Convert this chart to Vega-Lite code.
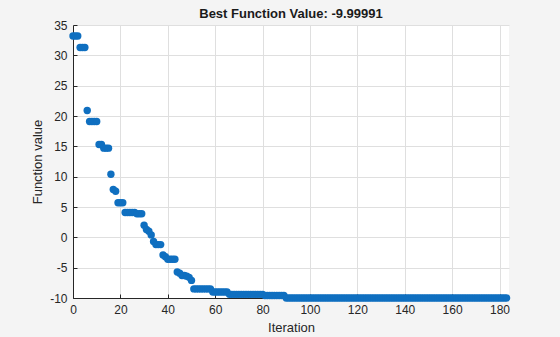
{
  "$schema": "https://vega.github.io/schema/vega-lite/v6.json",
  "width": 436,
  "height": 273,
  "autosize": "none",
  "padding": {"left": 73, "top": 25, "right": 51, "bottom": 39},
  "background": "#f4f4f4",
  "title": {"text": "Best Function Value: -9.99991", "font": "Liberation Sans", "fontSize": 13, "fontWeight": "bold", "color": "#1a1a1a", "offset": -2},
  "config": {
    "view": {"fill": "white", "stroke": null},
    "axis": {"labelFont": "Liberation Sans", "titleFont": "Liberation Sans", "labelFontSize": 12, "titleFontSize": 13, "titleFontWeight": "normal", "labelColor": "#262626", "titleColor": "#262626", "domainColor": "#262626", "tickColor": "#262626", "gridColor": "#dfdfdf", "tickSize": -4, "labelPadding": 10, "labelFlush": false, "labelExpr": "toString(datum.value)"}
  },
  "data": {"values": [
    {"iter":0,"f":33.2},{"iter":1,"f":33.2},{"iter":2,"f":33.2},
    {"iter":3,"f":31.3},{"iter":4,"f":31.3},{"iter":5,"f":31.3},
    {"iter":6,"f":20.9},
    {"iter":7,"f":19.1},{"iter":8,"f":19.1},{"iter":9,"f":19.1},{"iter":10,"f":19.1},
    {"iter":11,"f":15.3},{"iter":12,"f":15.3},
    {"iter":13,"f":14.7},{"iter":14,"f":14.7},{"iter":15,"f":14.7},
    {"iter":16,"f":10.4},
    {"iter":17,"f":7.9},{"iter":18,"f":7.6},
    {"iter":19,"f":5.7},{"iter":20,"f":5.7},{"iter":21,"f":5.7},
    {"iter":22,"f":4.1},{"iter":23,"f":4.1},{"iter":24,"f":4.1},{"iter":25,"f":4.1},{"iter":26,"f":4.1},
    {"iter":27,"f":3.9},{"iter":28,"f":3.9},{"iter":29,"f":3.9},
    {"iter":30,"f":2.0},{"iter":31,"f":1.3},{"iter":32,"f":1.0},{"iter":33,"f":0.4},
    {"iter":34,"f":-0.7},
    {"iter":35,"f":-1.2},{"iter":36,"f":-1.2},{"iter":37,"f":-1.2},
    {"iter":38,"f":-2.9},{"iter":39,"f":-3.2},
    {"iter":40,"f":-3.6},{"iter":41,"f":-3.6},{"iter":42,"f":-3.6},{"iter":43,"f":-3.6},
    {"iter":44,"f":-5.7},{"iter":45,"f":-5.9},
    {"iter":46,"f":-6.3},{"iter":47,"f":-6.3},{"iter":48,"f":-6.4},{"iter":49,"f":-6.6},{"iter":50,"f":-7.1},
    {"iter":51,"f":-8.5},{"iter":52,"f":-8.5},{"iter":53,"f":-8.5},{"iter":54,"f":-8.5},{"iter":55,"f":-8.5},{"iter":56,"f":-8.5},{"iter":57,"f":-8.5},{"iter":58,"f":-8.5},
    {"iter":59,"f":-9.0},{"iter":60,"f":-9.0},{"iter":61,"f":-9.0},{"iter":62,"f":-9.0},{"iter":63,"f":-9.0},{"iter":64,"f":-9.0},{"iter":65,"f":-9.0},
    {"iter":66,"f":-9.4},{"iter":67,"f":-9.4},{"iter":68,"f":-9.4},{"iter":69,"f":-9.4},{"iter":70,"f":-9.4},{"iter":71,"f":-9.4},{"iter":72,"f":-9.4},{"iter":73,"f":-9.4},{"iter":74,"f":-9.4},{"iter":75,"f":-9.4},{"iter":76,"f":-9.4},{"iter":77,"f":-9.4},{"iter":78,"f":-9.4},{"iter":79,"f":-9.4},{"iter":80,"f":-9.4},
    {"iter":81,"f":-9.6},{"iter":82,"f":-9.6},{"iter":83,"f":-9.6},{"iter":84,"f":-9.6},{"iter":85,"f":-9.6},{"iter":86,"f":-9.6},{"iter":87,"f":-9.6},{"iter":88,"f":-9.6},{"iter":89,"f":-9.6},
    {"iter":90,"f":-9.9999},{"iter":91,"f":-9.9999},{"iter":92,"f":-9.9999},{"iter":93,"f":-9.9999},{"iter":94,"f":-9.9999},{"iter":95,"f":-9.9999},{"iter":96,"f":-9.9999},{"iter":97,"f":-9.9999},{"iter":98,"f":-9.9999},{"iter":99,"f":-9.9999},
    {"iter":100,"f":-9.9999},{"iter":101,"f":-9.9999},{"iter":102,"f":-9.9999},{"iter":103,"f":-9.9999},{"iter":104,"f":-9.9999},{"iter":105,"f":-9.9999},{"iter":106,"f":-9.9999},{"iter":107,"f":-9.9999},{"iter":108,"f":-9.9999},{"iter":109,"f":-9.9999},
    {"iter":110,"f":-9.9999},{"iter":111,"f":-9.9999},{"iter":112,"f":-9.9999},{"iter":113,"f":-9.9999},{"iter":114,"f":-9.9999},{"iter":115,"f":-9.9999},{"iter":116,"f":-9.9999},{"iter":117,"f":-9.9999},{"iter":118,"f":-9.9999},{"iter":119,"f":-9.9999},
    {"iter":120,"f":-9.9999},{"iter":121,"f":-9.9999},{"iter":122,"f":-9.9999},{"iter":123,"f":-9.9999},{"iter":124,"f":-9.9999},{"iter":125,"f":-9.9999},{"iter":126,"f":-9.9999},{"iter":127,"f":-9.9999},{"iter":128,"f":-9.9999},{"iter":129,"f":-9.9999},
    {"iter":130,"f":-9.9999},{"iter":131,"f":-9.9999},{"iter":132,"f":-9.9999},{"iter":133,"f":-9.9999},{"iter":134,"f":-9.9999},{"iter":135,"f":-9.9999},{"iter":136,"f":-9.9999},{"iter":137,"f":-9.9999},{"iter":138,"f":-9.9999},{"iter":139,"f":-9.9999},
    {"iter":140,"f":-9.9999},{"iter":141,"f":-9.9999},{"iter":142,"f":-9.9999},{"iter":143,"f":-9.9999},{"iter":144,"f":-9.9999},{"iter":145,"f":-9.9999},{"iter":146,"f":-9.9999},{"iter":147,"f":-9.9999},{"iter":148,"f":-9.9999},{"iter":149,"f":-9.9999},
    {"iter":150,"f":-9.9999},{"iter":151,"f":-9.9999},{"iter":152,"f":-9.9999},{"iter":153,"f":-9.9999},{"iter":154,"f":-9.9999},{"iter":155,"f":-9.9999},{"iter":156,"f":-9.9999},{"iter":157,"f":-9.9999},{"iter":158,"f":-9.9999},{"iter":159,"f":-9.9999},
    {"iter":160,"f":-9.9999},{"iter":161,"f":-9.9999},{"iter":162,"f":-9.9999},{"iter":163,"f":-9.9999},{"iter":164,"f":-9.9999},{"iter":165,"f":-9.9999},{"iter":166,"f":-9.9999},{"iter":167,"f":-9.9999},{"iter":168,"f":-9.9999},{"iter":169,"f":-9.9999},
    {"iter":170,"f":-9.9999},{"iter":171,"f":-9.9999},{"iter":172,"f":-9.9999},{"iter":173,"f":-9.9999},{"iter":174,"f":-9.9999},{"iter":175,"f":-9.9999},{"iter":176,"f":-9.9999},{"iter":177,"f":-9.9999},{"iter":178,"f":-9.9999},{"iter":179,"f":-9.9999},
    {"iter":180,"f":-9.9999},{"iter":181,"f":-9.9999},{"iter":182,"f":-9.9999},{"iter":183,"f":-9.9999}
  ]},
  "mark": {"type": "point", "filled": true, "opacity": 1, "size": 55, "color": "#0f6fc0", "clip": false},
  "encoding": {
    "x": {"field": "iter", "type": "quantitative", "title": "Iteration", "scale": {"domain": [0, 184], "nice": false, "zero": false},
      "axis": {"values": [0,20,40,60,80,100,120,140,160,180], "titlePadding": 6}},
    "y": {"field": "f", "type": "quantitative", "title": "Function value", "scale": {"domain": [-10, 35], "nice": false, "zero": false},
      "axis": {"values": [-10,-5,0,5,10,15,20,25,30,35], "titlePadding": 5}}
  }
}
